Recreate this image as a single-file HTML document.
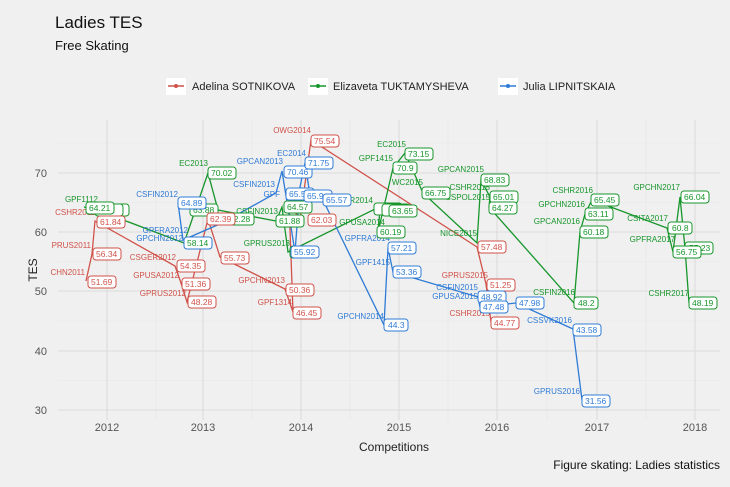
<!DOCTYPE html>
<html><head><meta charset="utf-8"><style>
body{margin:0;background:#f0f0f0}
svg{display:block;font-family:"Liberation Sans",sans-serif}
.r{fill:#d0524a}.g{fill:#17962b}.b{fill:#2f7bd6}
.n{font-size:8px}
.br rect{fill:#fff;stroke:#d0524a}.br text{fill:#d0524a}
.bg rect{fill:#fff;stroke:#17962b}.bg text{fill:#17962b}
.bb rect{fill:#fff;stroke:#2f7bd6}.bb text{fill:#2f7bd6}
.lb text{font-size:8.5px}
</style></head><body>
<svg width="730" height="487" viewBox="0 0 730 487">
<rect width="730" height="487" fill="#f0f0f0"/>
<text x="55" y="28" font-size="17" fill="#111">Ladies TES</text>
<text x="55" y="50" font-size="13" fill="#111">Free Skating</text>
<g font-size="11" fill="#222">
<rect x="166" y="78" width="20" height="17" fill="#fff"/><line x1="168" y1="86" x2="184" y2="86" stroke="#d0524a" stroke-width="1.5"/><circle cx="176" cy="86" r="2" fill="#d0524a"/>
<text x="192" y="90">Adelina SOTNIKOVA</text>
<rect x="308" y="78" width="20" height="17" fill="#fff"/><line x1="310" y1="86" x2="326" y2="86" stroke="#17962b" stroke-width="1.5"/><circle cx="318" cy="86" r="2" fill="#17962b"/>
<text x="333" y="90">Elizaveta TUKTAMYSHEVA</text>
<rect x="498" y="78" width="20" height="17" fill="#fff"/><line x1="500" y1="86" x2="516" y2="86" stroke="#2f7bd6" stroke-width="1.5"/><circle cx="508" cy="86" r="2" fill="#2f7bd6"/>
<text x="523" y="90">Julia LIPNITSKAIA</text>
</g>
<g stroke="#e6e6e6" stroke-width="0.6">
<line x1="58" x2="720" y1="202.5" y2="202.5"/><line x1="58" x2="720" y1="261.5" y2="261.5"/><line x1="58" x2="720" y1="321" y2="321"/><line x1="58" x2="720" y1="380.5" y2="380.5"/><line x1="58" x2="720" y1="143" y2="143"/>
<line x1="156" x2="156" y1="120" y2="420"/><line x1="252" x2="252" y1="120" y2="420"/><line x1="350" x2="350" y1="120" y2="420"/><line x1="448" x2="448" y1="120" y2="420"/><line x1="547" x2="547" y1="120" y2="420"/><line x1="646" x2="646" y1="120" y2="420"/>
</g>
<g stroke="#dcdcdc" stroke-width="1.1">
<line x1="58" x2="720" y1="173" y2="173"/><line x1="58" x2="720" y1="232" y2="232"/><line x1="58" x2="720" y1="291" y2="291"/><line x1="58" x2="720" y1="351" y2="351"/><line x1="58" x2="720" y1="410" y2="410"/>
<line x1="107" x2="107" y1="120" y2="420"/><line x1="203" x2="203" y1="120" y2="420"/><line x1="301" x2="301" y1="120" y2="420"/><line x1="399" x2="399" y1="120" y2="420"/><line x1="497" x2="497" y1="120" y2="420"/><line x1="597" x2="597" y1="120" y2="420"/><line x1="695" x2="695" y1="120" y2="420"/>
</g>
<g font-size="11" fill="#555" text-anchor="end">
<text x="47" y="177">70</text><text x="47" y="236">60</text><text x="47" y="295">50</text><text x="47" y="355">40</text><text x="47" y="414">30</text>
</g>
<g font-size="11" fill="#555" text-anchor="middle">
<text x="107" y="431">2012</text><text x="203" y="431">2013</text><text x="301" y="431">2014</text><text x="399" y="431">2015</text><text x="497" y="431">2016</text><text x="597" y="431">2017</text><text x="695" y="431">2018</text>
<text x="394" y="451" font-size="12" fill="#222">Competitions</text>
<text x="37" y="270" font-size="12" fill="#222" transform="rotate(-90 37 270)">TES</text>
</g>
<text x="720" y="469" font-size="12" fill="#111" text-anchor="end">Figure skating: Ladies statistics</text>
<polyline fill="none" stroke="#d0524a" stroke-width="1.3" points="86,281 92,254 95,221 175,266 181,283 187,302 208,219 220,257 285,289 293,312 289,202 300,220 311,140 477,247 486,284 491,322"/>
<polyline fill="none" stroke="#17962b" stroke-width="1.3" points="84,207 97,210 184,243 208,173 218,210 276,221 282,207 288,252 375,209 380,210 378,232 393,168 405,153 423,193 477,243 481,180 490,197 489,207 574,303 580,232 585,214 592,200 667,228 673,252 680,197 685,248 689,303"/>
<polyline fill="none" stroke="#2f7bd6" stroke-width="1.3" points="178,203 183,240 222,223 276,193 282,171 295,252 300,187 305,163 310,195 323,200 384,325 388,248 393,272 478,297 480,307 516,303 573,329 582,400"/>
<g class="n" text-anchor="end">
<g class="r"><text x="85" y="275">CHN2011</text><text x="91" y="248">PRUS2011</text><text x="95" y="215">CSHR2011</text><text x="176" y="260">CSGER2012</text><text x="179" y="278">GPUSA2012</text><text x="186" y="296">GPRUS2012</text><text x="285" y="283">GPCHN2013</text><text x="292" y="305">GPF1314</text><text x="311" y="133">OWG2014</text><text x="488" y="278">GPRUS2015</text><text x="490" y="316">CSHR2015</text></g>
<g class="g"><text x="98" y="202">GPF1112</text><text x="208" y="166">EC2013</text><text x="200" y="204">GPF</text><text x="278" y="214">CSFIN2013</text><text x="290" y="246">GPRUS2013</text><text x="373" y="203">ER2014</text><text x="385" y="225">GPUSA2014</text><text x="406" y="147">EC2015</text><text x="393" y="161">GPF1415</text><text x="423" y="185">WC2015</text><text x="484" y="172">GPCAN2015</text><text x="490" y="190">CSHR2015</text><text x="490" y="200">CSPOL2015</text><text x="477" y="236">NICE2015</text><text x="593" y="193">CSHR2016</text><text x="585" y="207">GPCHN2016</text><text x="580" y="224">GPCAN2016</text><text x="575" y="295">CSFIN2016</text><text x="680" y="190">GPCHN2017</text><text x="668" y="221">CSITA2017</text><text x="675" y="242">GPFRA2017</text><text x="689" y="296">CSHR2017</text></g>
<g class="b"><text x="178" y="197">CSFIN2012</text><text x="188" y="233">GPFRA2012</text><text x="183" y="241">GPCHN2012</text><text x="283" y="164">GPCAN2013</text><text x="306" y="156">EC2014</text><text x="275" y="187">CSFIN2013</text><text x="280" y="197">GPF</text><text x="390" y="241">GPFRA2014</text><text x="390" y="265">GPF1415</text><text x="384" y="319">GPCHN2014</text><text x="478" y="290">CSFIN2015</text><text x="478" y="299">GPUSA2015</text><text x="505" y="299">2016</text><text x="572" y="323">CSSVK2016</text><text x="580" y="394">GPRUS2016</text></g>
</g>
<g class="lb">
<g class="bg">
<rect x="101" y="204" width="28" height="12" rx="3"/><rect x="95" y="204" width="28" height="12" rx="3"/>
<rect x="86" y="202" width="28" height="12" rx="3"/><text x="89" y="211">64.21</text>
<rect x="190" y="204" width="28" height="12" rx="3"/><text x="193" y="213">63.88</text>
<rect x="208" y="167" width="28" height="12" rx="3"/><text x="211" y="176">70.02</text>
<rect x="226" y="213" width="28" height="12" rx="3"/><text x="229" y="222">62.28</text>
<rect x="284" y="201" width="28" height="12" rx="3"/><text x="287" y="210">64.57</text>
<rect x="276" y="215" width="28" height="12" rx="3"/><text x="279" y="224">61.88</text>
<rect x="290" y="246" width="28" height="12" rx="3"/>
<rect x="374" y="203" width="28" height="12" rx="3"/><rect x="382" y="204" width="28" height="12" rx="3"/>
<rect x="389" y="205" width="28" height="12" rx="3"/><text x="392" y="214">63.65</text>
<rect x="377" y="226" width="28" height="12" rx="3"/><text x="380" y="235">60.19</text>
<rect x="393" y="162" width="24" height="12" rx="3"/><text x="397" y="171">70.9</text>
<rect x="405" y="148" width="28" height="12" rx="3"/><text x="408" y="157">73.15</text>
<rect x="422" y="187" width="28" height="12" rx="3"/><text x="425" y="196">66.75</text>
<rect x="481" y="174" width="28" height="12" rx="3"/><text x="484" y="183">68.83</text>
<rect x="490" y="191" width="28" height="12" rx="3"/><text x="493" y="200">65.01</text>
<rect x="489" y="202" width="28" height="12" rx="3"/><text x="492" y="211">64.27</text>
<rect x="574" y="297" width="24" height="12" rx="3"/><text x="578" y="306">48.2</text>
<rect x="580" y="226" width="28" height="12" rx="3"/><text x="583" y="235">60.18</text>
<rect x="585" y="208" width="28" height="12" rx="3"/><text x="588" y="217">63.11</text>
<rect x="591" y="194" width="28" height="12" rx="3"/><text x="594" y="203">65.45</text>
<rect x="685" y="242" width="28" height="12" rx="3"/><text x="689" y="251">57.23</text>
<rect x="668" y="222" width="24" height="12" rx="3"/><text x="672" y="231">60.8</text>
<rect x="673" y="246" width="28" height="12" rx="3"/><text x="676" y="255">56.75</text>
<rect x="681" y="191" width="28" height="12" rx="3"/><text x="684" y="200">66.04</text>
<rect x="689" y="297" width="28" height="12" rx="3"/><text x="692" y="306">48.19</text>
</g>
<g class="br">
<rect x="88" y="276" width="28" height="12" rx="3"/><text x="91" y="285">51.69</text>
<rect x="93" y="248" width="28" height="12" rx="3"/><text x="96" y="257">56.34</text>
<rect x="97" y="216" width="28" height="12" rx="3"/><text x="100" y="225">61.84</text>
<rect x="177" y="260" width="28" height="12" rx="3"/><text x="180" y="269">54.35</text>
<rect x="182" y="278" width="28" height="12" rx="3"/><text x="185" y="287">51.36</text>
<rect x="188" y="296" width="28" height="12" rx="3"/><text x="191" y="305">48.28</text>
<rect x="221" y="252" width="28" height="12" rx="3"/><text x="224" y="261">55.73</text>
<rect x="286" y="284" width="28" height="12" rx="3"/><text x="289" y="293">50.36</text>
<rect x="293" y="307" width="28" height="12" rx="3"/><text x="296" y="316">46.45</text>
<rect x="308" y="214" width="28" height="12" rx="3"/><text x="311" y="223">62.03</text>
<rect x="311" y="135" width="28" height="12" rx="3"/><text x="314" y="144">75.54</text>
<rect x="478" y="241" width="28" height="12" rx="3"/><text x="481" y="250">57.48</text>
<rect x="487" y="279" width="28" height="12" rx="3"/><text x="490" y="288">51.25</text>
<rect x="491" y="317" width="28" height="12" rx="3"/><text x="494" y="326">44.77</text>
</g>
<g class="bb">
<rect x="178" y="197" width="28" height="12" rx="3"/><text x="181" y="206">64.89</text>
<rect x="184" y="237" width="28" height="12" rx="3"/><text x="187" y="246" style="fill:#17962b">58.14</text>
<rect x="291" y="246" width="28" height="12" rx="3"/><text x="294" y="255">55.92</text>
<rect x="286" y="188" width="28" height="12" rx="3"/><text x="289" y="197">65.54</text>
<rect x="284" y="166" width="28" height="12" rx="3"/><text x="287" y="175">70.46</text>
<rect x="305" y="157" width="28" height="12" rx="3"/><text x="308" y="166">71.75</text>
<rect x="304" y="190" width="28" height="12" rx="3"/><text x="307" y="199">65.9</text>
<rect x="323" y="194" width="28" height="12" rx="3"/><text x="326" y="203">65.57</text>
<rect x="384" y="319" width="24" height="12" rx="3"/><text x="388" y="328">44.3</text>
<rect x="388" y="242" width="28" height="12" rx="3"/><text x="391" y="251">57.21</text>
<rect x="393" y="266" width="28" height="12" rx="3"/><text x="396" y="275">53.36</text>
<rect x="478" y="291" width="28" height="12" rx="3"/><text x="481" y="300">48.92</text>
<rect x="480" y="301" width="28" height="12" rx="3"/><text x="483" y="310">47.48</text>
<rect x="516" y="297" width="28" height="12" rx="3"/><text x="519" y="306">47.98</text>
<rect x="573" y="324" width="28" height="12" rx="3"/><text x="576" y="333">43.58</text>
<rect x="582" y="395" width="28" height="12" rx="3"/><text x="585" y="404">31.56</text>
</g>
<g class="br">
<rect x="207" y="213" width="28" height="12" rx="3"/><text x="210" y="222">62.39</text>
</g>
</g>
</svg>
</body></html>
